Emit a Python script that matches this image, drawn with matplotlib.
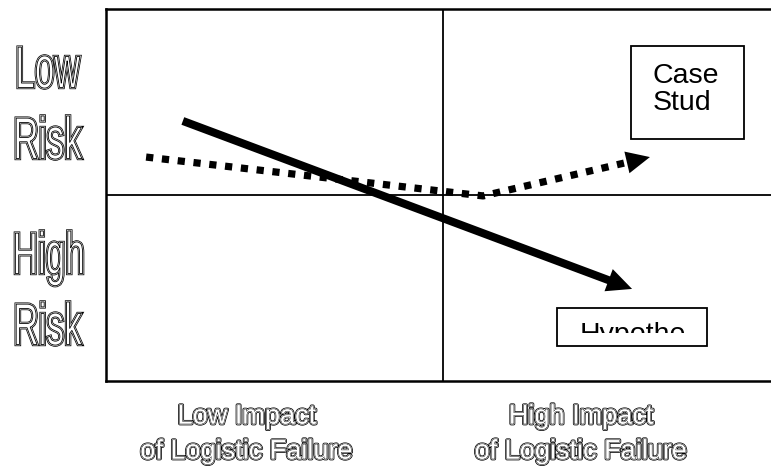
import numpy as np
import matplotlib
matplotlib.use("Agg")
import matplotlib.pyplot as plt
from matplotlib.patches import Rectangle, FancyArrowPatch, PathPatch, ArrowStyle
from matplotlib.textpath import TextPath
from matplotlib.font_manager import FontProperties
from matplotlib.transforms import Affine2D, IdentityTransform
import matplotlib.patheffects as pe

plt.rcParams['font.family'] = ['Liberation Sans', 'DejaVu Sans']

# ---- data (quadrant space: x = impact 0..2, y = 0 high risk .. 2 low risk) ----
x_labels = ["Low Impact\nof Logistic Failure", "High Impact\nof Logistic Failure"]
x_label_pos = [0.418, 1.41]
y_labels = [["Low", "Risk"], ["High", "Risk"]]
y_label_pos = [1.5, 0.5]
hyp_x = [0.228, 1.561]          # solid arrow (hypothesis)
hyp_y = [1.398, 0.495]
case_x = [0.119, 1.119, 1.614]  # dotted arrow (case study)
case_y = [1.204, 0.995, 1.204]
box_labels = ["Case\nStud", "Hypothe"]

W, H = 771, 472
fig = plt.figure(figsize=(W / 100, H / 100), dpi=100)
fig.patch.set_facecolor("white")
ax = fig.add_axes([106 / W, 91 / H, 674 / W, 372 / H])
ax.set_xlim(0, 2)
ax.set_ylim(0, 2)
ax.set_xticks([])
ax.set_yticks([])
for s in ax.spines.values():
    s.set_linewidth(1.8)
    s.set_color("black")
ax.axvline(1, color="black", lw=1.3)
ax.axhline(1, color="black", lw=1.3)

outline = [pe.Stroke(linewidth=2.4, foreground="black"),
           pe.Stroke(linewidth=1.3, foreground="white"),
           pe.Stroke(linewidth=0.6, foreground="black"),
           pe.Normal()]

# ---- solid arrow ----
ax.add_patch(FancyArrowPatch((hyp_x[0], hyp_y[0]), (hyp_x[1], hyp_y[1]),
                             arrowstyle=ArrowStyle.Simple(head_length=18, head_width=17, tail_width=5.8),
                             mutation_scale=1, lw=0, color="black", shrinkA=0, shrinkB=0, zorder=4))

# ---- dotted arrow ----
P = ax.transData.transform(np.column_stack([case_x, case_y]))
tip, prev = P[-1], P[-2]
d = (tip - prev) / np.hypot(*(tip - prev))
base = tip - d * (17 * 100 / 72) * 0.85
base_d = ax.transData.inverted().transform(base)
ax.plot(list(case_x[:-1]) + [base_d[0]], list(case_y[:-1]) + [base_d[1]],
        color="black", lw=5.2, ls=(0, (1, 1.2)), dash_capstyle="butt", zorder=3)
ax.add_patch(FancyArrowPatch((case_x[-2], case_y[-2]), (case_x[-1], case_y[-1]),
                             arrowstyle=ArrowStyle.Simple(head_length=17, head_width=16, tail_width=0.01),
                             mutation_scale=1, lw=0, color="black", shrinkA=0, shrinkB=0, zorder=4))

# ---- boxes ----
ax.add_patch(Rectangle((1.558, 1.301), 0.335, 0.5, fill=False, ec="black", lw=1.3, zorder=5))
ax.text(1.623, 1.712, box_labels[0], ha="left", va="top", fontsize=20.5, linespacing=1.08, zorder=6)
ax.add_patch(Rectangle((1.338, 0.188), 0.445, 0.204, fill=False, ec="black", lw=1.3, zorder=5))
t = ax.text(1.404, 0.318, box_labels[1], ha="left", va="top", fontsize=20.5, zorder=6, clip_on=True)
clip = Rectangle((1.338, 0.258), 0.445, 0.134, transform=ax.transData, visible=False)
ax.add_patch(clip)
t.set_clip_path(clip)

# ---- bottom labels ----
for lab, xp in zip(x_labels, x_label_pos):
    ax.text(xp, -0.122, lab, ha="center", va="top", ma="center", fontsize=19.5,
            color="white", linespacing=1.45, path_effects=outline, clip_on=False)

# ---- left condensed labels ----
fp = FontProperties(family="Liberation Sans")
size = 58.7
sx = 0.6
line_step = 71
cap = 0.716 * size
for lines, yp in zip(y_labels, y_label_pos):
    cy = ax.transData.transform((0, yp))[1]  # display y (from bottom)
    block_top = cy + (line_step + cap) / 2
    for i, ln in enumerate(lines):
        tp = TextPath((0, 0), ln, size=size, prop=fp)
        ext = tp.get_extents()
        baseline = block_top - i * line_step - cap
        tr = (Affine2D().translate(-(ext.x0 + ext.x1) / 2, 0).scale(sx, 1)
              .translate(49, baseline) + IdentityTransform())
        patch = PathPatch(tp, transform=tr, facecolor="white", edgecolor="black", lw=0.6,
                          path_effects=[pe.Stroke(linewidth=2.4, foreground="black"),
                                        pe.Stroke(linewidth=1.3, foreground="white"),
                                        pe.Normal()])
        fig.add_artist(patch)

fig.savefig("out.png", dpi=100, facecolor="white")
